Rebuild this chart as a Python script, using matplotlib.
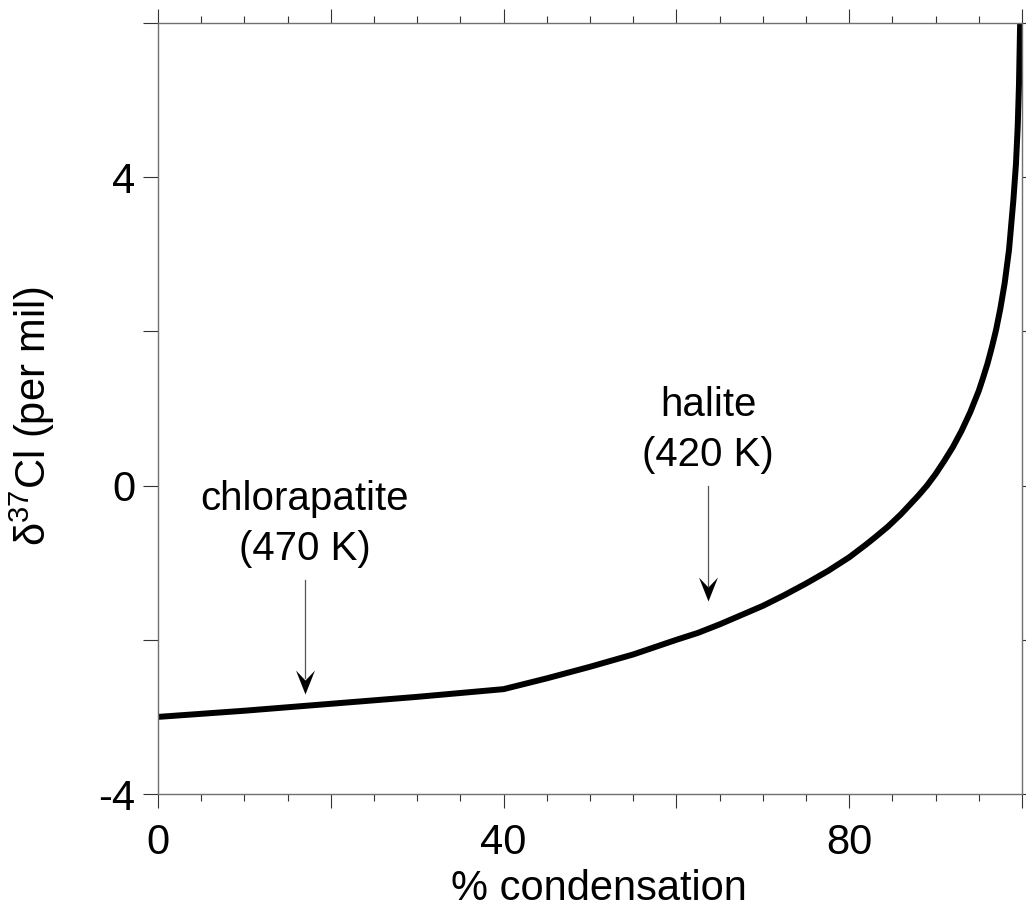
import matplotlib
matplotlib.use("Agg")
import matplotlib.pyplot as plt
from matplotlib.path import Path
from matplotlib.ticker import FixedLocator, FuncFormatter

plt.rcParams['font.family'] = ['Liberation Sans', 'DejaVu Sans']
plt.rcParams['mathtext.fontset'] = 'custom'
plt.rcParams['mathtext.rm'] = 'Liberation Sans'
plt.rcParams['mathtext.it'] = 'Liberation Sans:italic'

# Chlorine isotope evolution of the residual gas during condensation
condensation_pct = [0, 10, 20, 30, 40, 45, 50, 55, 60, 62.5, 65, 67.5, 70, 72.5,
                    75, 77.5, 80, 82, 83, 84.5, 86, 87, 88, 89, 90, 91, 92, 93,
                    94, 95, 95.5, 96, 96.5, 97, 97.5, 98, 98.5, 99, 99.3, 99.5,
                    99.65, 99.8]
delta37cl = [-3.00, -2.92, -2.83, -2.74, -2.64, -2.50, -2.35, -2.19, -2.00,
             -1.91, -1.80, -1.68, -1.56, -1.42, -1.27, -1.11, -0.93, -0.76,
             -0.67, -0.53, -0.37, -0.25, -0.13, 0.00, 0.15, 0.32, 0.50, 0.71,
             0.95, 1.23, 1.40, 1.58, 1.79, 2.02, 2.30, 2.63, 3.06, 3.70, 4.17,
             4.65, 5.20, 6.10]

# Phase annotations: label lines, arrow position, arrow top and tip
phase_labels = [("chlorapatite", "(470 K)"), ("halite", "(420 K)")]
label_x = [17.0, 63.7]
label_y = [(-0.31, -0.96), (0.90, 0.25)]
arrow_x = [17.0, 63.6]
arrow_top = [-1.22, -0.01]
arrow_tip = [-2.70, -1.50]

x_tick_labels = [0, 40, 80]
y_tick_labels = [-4, 0, 4]

fig = plt.figure(figsize=(10.26, 9.09), dpi=100)
ax = fig.add_axes([158 / 1026, 1 - 794 / 909, (1022 - 158) / 1026, (794 - 23) / 909])

ax.plot(condensation_pct, delta37cl, color='black', lw=4.3,
        solid_capstyle='butt', solid_joinstyle='round')

ax.set_xlim(0, 100)
ax.set_ylim(-4, 6)

spine_color = '#707070'
for s in ax.spines.values():
    s.set_color(spine_color)
    s.set_linewidth(1.0)

ax.xaxis.set_major_locator(FixedLocator(list(range(0, 101, 20))))
ax.xaxis.set_minor_locator(FixedLocator(list(range(0, 101, 5))))
ax.yaxis.set_major_locator(FixedLocator(list(range(-4, 7, 2))))
ax.xaxis.set_major_formatter(FuncFormatter(
    lambda v, p: f"{int(round(v))}" if int(round(v)) in x_tick_labels else ""))
ax.yaxis.set_major_formatter(FuncFormatter(
    lambda v, p: f"{int(round(v))}" if int(round(v)) in y_tick_labels else ""))

ax.tick_params(axis='both', which='both', direction='out', top=True, right=True,
               colors='#333333', labelcolor='black', width=0.8)
ax.tick_params(axis='x', which='major', length=10, pad=11, labelsize=30)
ax.tick_params(axis='x', which='minor', length=5)
ax.tick_params(axis='y', which='major', length=10.5, pad=6, labelsize=30)

ax.set_xlabel("% condensation", fontsize=30)
ax.xaxis.set_label_coords(0.51, -0.097)
ax.set_ylabel("δ$^{37}$Cl (per mil)", fontsize=30)
ax.yaxis.set_label_coords(-0.117, 0.49)

# Stealth-style arrowhead with the tip at the origin
head = Path([(0, 0), (9.5, 24), (0, 14), (-9.5, 24), (0, 0)],
            [Path.MOVETO, Path.LINETO, Path.LINETO, Path.LINETO, Path.CLOSEPOLY])

for (l1, l2), tx, (ty1, ty2), xa, yt, yb in zip(phase_labels, label_x, label_y,
                                                arrow_x, arrow_top, arrow_tip):
    ax.plot([xa, xa], [yt, yb + 0.2], color='#555555', lw=0.9)
    ax.plot([xa], [yb], marker=head, ms=34.5, color='black', mec='black', mew=0)
    ax.text(tx, ty1, l1, ha='center', va='baseline', fontsize=29)
    ax.text(tx, ty2, l2, ha='center', va='baseline', fontsize=29)

fig.savefig("out.png", dpi=100)
